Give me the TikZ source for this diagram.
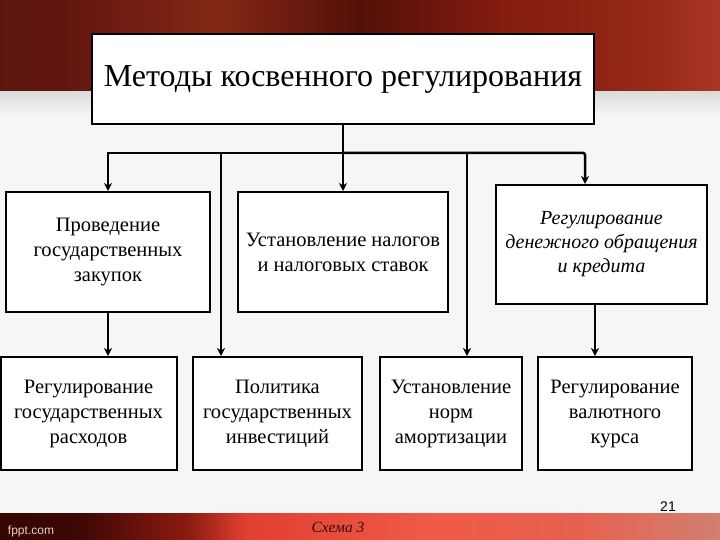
\documentclass[tikz,border=0pt]{standalone}
\usepackage{fontspec}
\setmainfont{Liberation Serif}
\newfontfamily\slidesans{Liberation Sans}
\usepackage{tikz}
\usetikzlibrary{arrows.meta}
\definecolor{paper}{HTML}{F6F6F6}
\definecolor{brandtext}{HTML}{E8CFC8}
\definecolor{schemetext}{HTML}{3A0C08}
\definecolor{tbA}{HTML}{F0CFA4}
\definecolor{tbB}{HTML}{E49A5A}
\definecolor{tbC}{HTML}{A24A24}
\definecolor{tbD}{HTML}{561810}
\definecolor{tbE}{HTML}{641610}
\definecolor{tbF}{HTML}{842816}
\definecolor{tbG}{HTML}{541008}
\definecolor{tbH}{HTML}{841C10}
\definecolor{tbI}{HTML}{962816}
\definecolor{tbJ}{HTML}{BC4636}
\definecolor{tbK}{HTML}{AC3426}
\definecolor{tbL}{HTML}{761810}
\definecolor{tbM}{HTML}{8C1C12}
\definecolor{fbA}{HTML}{A03020}
\definecolor{fbB}{HTML}{501008}
\definecolor{fbC}{HTML}{2A0404}
\definecolor{fbD}{HTML}{3A0604}
\definecolor{fbE}{HTML}{8A1A10}
\definecolor{fbF}{HTML}{E04030}
\definecolor{fbG}{HTML}{F05A48}
\definecolor{fbH}{HTML}{E86050}
\definecolor{fbI}{HTML}{D08070}
\definecolor{fbJ}{HTML}{C06050}
\definecolor{fbK}{HTML}{601008}
\definecolor{fbL}{HTML}{300404}
\pgfdeclarehorizontalshading{topband}{100bp}{color(0bp)=(tbA); color(5bp)=(tbB); color(12bp)=(tbC); color(18bp)=(tbD); color(30bp)=(tbE); color(40bp)=(tbF); color(50bp)=(tbG); color(60bp)=(tbH); color(70bp)=(tbI); color(80bp)=(tbJ); color(85bp)=(tbK); color(92bp)=(tbL); color(100bp)=(tbM)}
\pgfdeclarehorizontalshading{footband}{100bp}{color(0bp)=(fbA); color(4bp)=(fbB); color(10bp)=(fbC); color(30bp)=(fbD); color(38bp)=(fbE); color(42bp)=(fbF); color(55bp)=(fbG); color(65bp)=(fbH); color(75bp)=(fbI); color(85bp)=(fbJ); color(95bp)=(fbK); color(100bp)=(fbL)}

\begin{document}
\begin{tikzpicture}[x=1pt, y=-1pt,
    box/.style={draw, line width=2pt, fill=white, minimum width=#1, align=center, inner sep=0pt, font=\fontsize{20.5}{25}\selectfont},
    link/.style={line width=2.5pt},
    arrow/.style={-{Stealth[length=8pt, width=8pt, inset=2.5pt]}, line width=2.5pt}
]
\useasboundingbox (0,0) rectangle (720,540);
\fill[paper] (0,0) rectangle (720,540);
\shade[shading=topband] (0,0) rectangle (720,92);
\shade[top color=gray!28, bottom color=paper] (0,92) rectangle (720,116);
\shade[shading=footband] (0,513) rectangle (720,540);

\node[box=502pt, minimum height=90pt, font=\fontsize{32}{36}\selectfont] (title) at (343,79) {Методы косвенного регулирования};
\node[box=204pt, minimum height=120pt] (zakupki) at (108,252) {Проведение\\государственных\\закупок};
\node[box=210pt, minimum height=120pt] (nalogi) at (343,252) {Установление налогов\\и налоговых ставок};
\node[box=211pt, minimum height=119pt, font=\fontsize{20}{24}\selectfont\itshape] (kredit) at (601.5,244.5) {Регулирование\\денежного обращения\\и кредита};
\node[box=176pt, minimum height=113pt] (rashody) at (88.5,413.5) {Регулирование\\государственных\\расходов};
\node[box=169pt, minimum height=113pt] (invest) at (277.5,413.5) {Политика\\государственных\\инвестиций};
\node[box=142pt, minimum height=113pt] (amort) at (451,413.5) {Установление\\норм\\амортизации};
\node[box=154pt, minimum height=113pt] (valuta) at (615,413.5) {Регулирование\\валютного\\курса};

\coordinate (bus) at (343,153);
\coordinate (j5) at (221,153);
\coordinate (j6) at (467,153);
\coordinate (k7) at ([xshift=-6.5pt]kredit.south);

\draw[link] (title) -- (bus);
\draw[arrow] (bus) -| (zakupki);
\draw[arrow] (bus) -- (nalogi);
\draw[arrow, rounded corners=2pt] (bus) -| ([xshift=-16.5pt]kredit.north);
\draw[arrow] (j5) -- (j5 |- invest.north);
\draw[arrow] (j6) -- (j6 |- amort.north);
\draw[arrow] (zakupki) -- (zakupki |- rashody.north);
\draw[arrow] (k7) -- (k7 |- valuta.north);

\node[font=\slidesans\fontsize{14}{14}\selectfont] (page) at (668,507) {21};
\node[font=\slidesans\fontsize{12}{12}\selectfont, text=brandtext] (brand) at (31,531) {fppt.com};
\node[font=\itshape\fontsize{15.5}{15.5}\selectfont, text=schemetext] (scheme) at (338,527) {Схема 3};
\end{tikzpicture}
\end{document}
